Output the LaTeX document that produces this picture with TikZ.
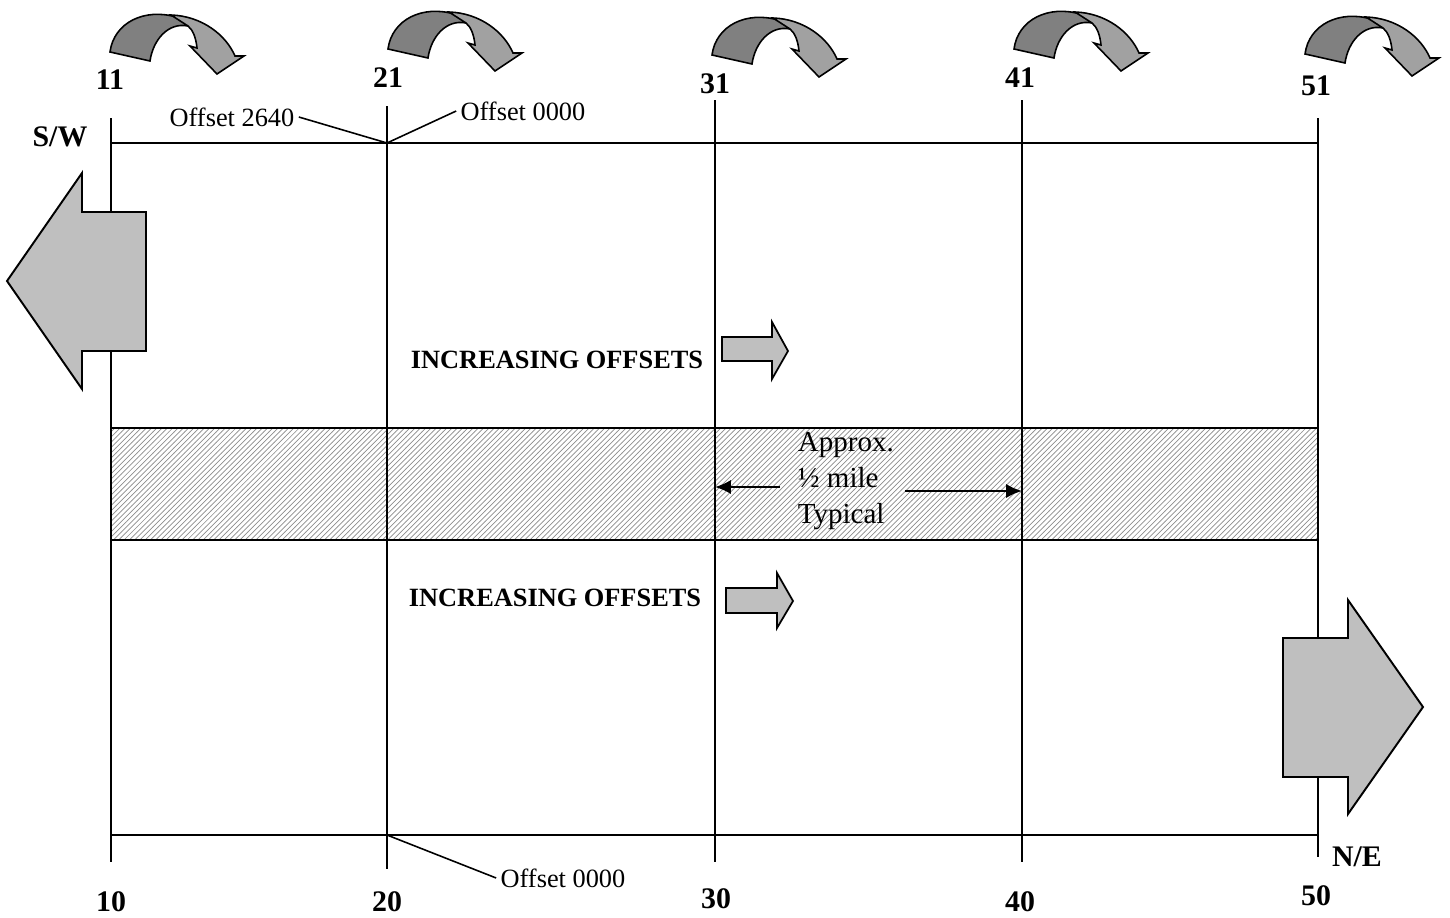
\documentclass[tikz,border=0pt]{standalone}
\usepackage{fontspec}
\setmainfont{Liberation Serif}
\usetikzlibrary{arrows.meta,patterns}

\begin{document}
\begin{tikzpicture}[x=0.02cm,y=-0.02cm,line width=1.1pt,>={Latex[length=9pt,width=8pt]},
  num/.style={font=\fontsize{17}{20}\selectfont\bfseries},
  offs/.style={font=\fontsize{15}{18}\selectfont,inner sep=2pt},
  incr/.style={font=\fontsize{15}{18}\selectfont\bfseries},
  blockarrow/.style={draw=black,fill=black!25,line width=1.1pt,line join=miter},
  turnarrow/.pic={
    \filldraw[fill=black!50,line width=0.9pt] (0,0) .. controls (4,-30) and (35,-44) .. (66,-35) -- (78,-26)
      .. controls (58,-30) and (43,-12) .. (40,9) -- cycle;
    \filldraw[fill=black!37,line width=0.9pt] (61,-37) .. controls (92,-36) and (116,-17) .. (125,4) -- (134,4)
      -- (107,22) -- (80,-6) -- (87,-4) .. controls (86,-14) and (83,-22) .. (78,-26) -- cycle;
  }]
\useasboundingbox (0,0) rectangle (1450,917);

% hatched band
\fill[pattern=north east lines,pattern color=black!45] (111,428) rectangle (1318,540);
\draw (111,428) -- (1318,428) (111,540) -- (1318,540);

% cross lines
\foreach \n/\x/\t/\b in {10/111/118/862,20/387/106/869,30/715/100/862,40/1022/100/862,50/1318/118/857}{
  \coordinate (t\n) at (\x,\t);
  \coordinate (b\n) at (\x,\b);
  \draw (t\n) -- (b\n);
}
\coordinate (j20) at (387,143);
\coordinate (k20) at (387,835);
\draw (t10 |- j20) -- (t50 |- j20);
\draw (t10 |- k20) -- (t50 |- k20);

% numbers
\node[num] (n11) at (110,80) {11};
\node[num] (n21) at (388,78) {21};
\node[num] (n31) at (715,84) {31};
\node[num] (n41) at (1020,78) {41};
\node[num] (n51) at (1316,86) {51};
\node[num] (n10) at (111,902) {10};
\node[num] (n20) at (387,902) {20};
\node[num] (n30) at (716,899) {30};
\node[num] (n40) at (1020,902) {40};
\node[num] (n50) at (1316,896) {50};
\node[num] (sw) at (60,137) {S/W};
\node[num] (ne) at (1357,857) {N/E};

% turning arrows
\foreach \x/\y in {110/52,388/49,712/55,1014/49,1305/54}
  \pic at (\x,\y) {turnarrow};

% offsets
\node[offs] (o2640) at (232,117) {Offset 2640};
\node[offs] (o0000t) at (523,111) {Offset 0000};
\node[offs] (o0000b) at (563,878) {Offset 0000};
\draw[line width=0.9pt] (o2640.east) -- (j20) -- (o0000t.west);
\draw[line width=0.9pt] (k20) -- (o0000b.west);

% travel direction
\filldraw[blockarrow] (7,281) -- (82,173) -- (82,212) -- (146,212) -- (146,351) -- (82,351) -- (82,389) -- cycle;
\filldraw[blockarrow] (1423,707) -- (1348,600) -- (1348,638) -- (1283,638) -- (1283,777) -- (1348,777) -- (1348,814) -- cycle;

\node[incr] (inc1) at (557,360) {INCREASING OFFSETS};
\node[incr] (inc2) at (555,598) {INCREASING OFFSETS};
\filldraw[blockarrow,line width=1pt] (788,351) -- (772,322) -- (772,337) -- (722,337) -- (722,361) -- (772,361) -- (772,379) -- cycle;
\filldraw[blockarrow,line width=1pt] (793,601) -- (777,573) -- (777,588) -- (726,588) -- (726,613) -- (777,613) -- (777,628) -- cycle;

% spacing
\node[anchor=west,align=left,inner sep=0pt,font=\fontsize{16.5}{20.5}\selectfont] (appr) at (797,481) {Approx.\\½ mile\\Typical};
\coordinate (al) at (780,487);
\coordinate (ar) at (905,491);
\draw[->] (al) -- (t30 |- al);
\draw[->] (ar) -- (t40 |- ar);
\end{tikzpicture}
\end{document}
